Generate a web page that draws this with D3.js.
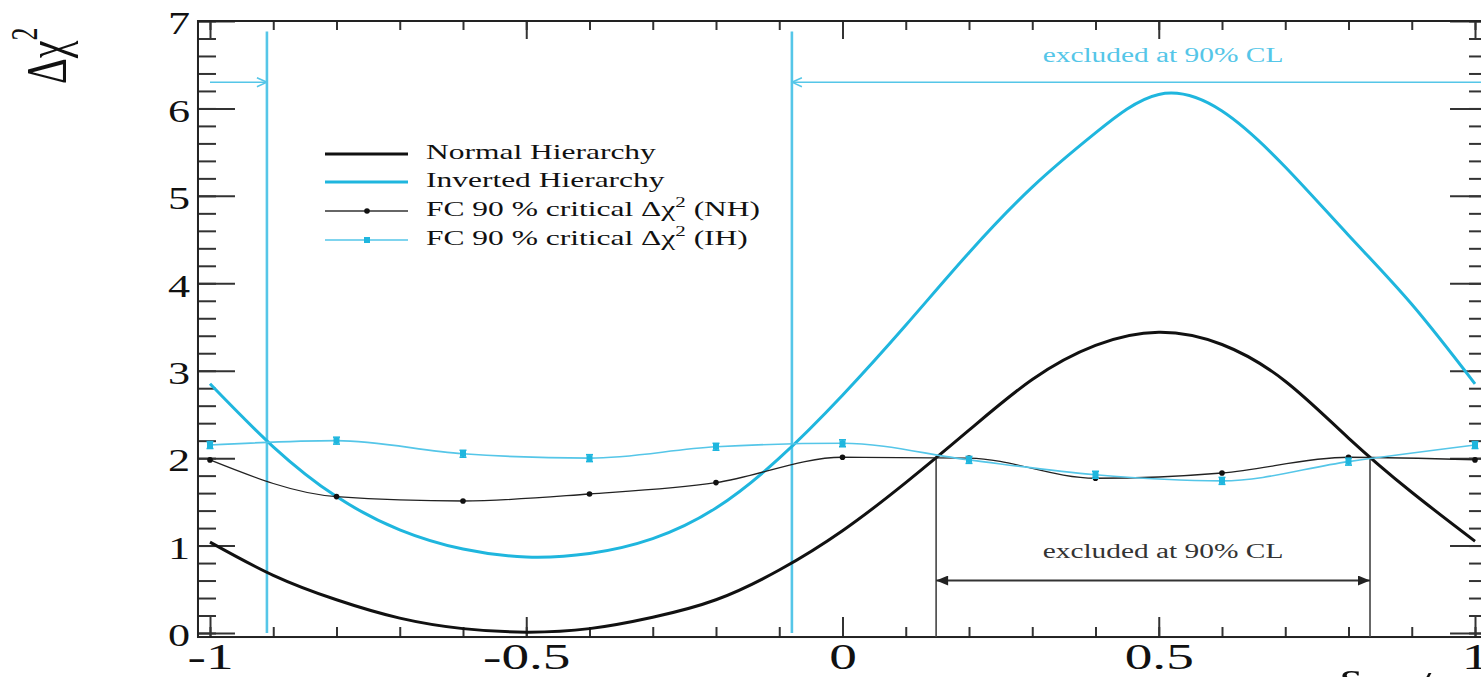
<!DOCTYPE html>
<html><head><meta charset="utf-8">
<script src="https://cdn.jsdelivr.net/npm/d3@7/dist/d3.min.js"></script>
<style>html,body{margin:0;padding:0;background:#fff;overflow:hidden;} svg{display:block;}</style>
</head><body>
<svg id="chart" width="1481" height="677"></svg>
<script>
// ---------------- data ----------------
const curveX   = [-1,-0.9,-0.8,-0.7,-0.6,-0.5,-0.4,-0.3,-0.2,-0.1,0,0.1,0.2,0.3,0.4,0.5,0.6,0.7,0.8,0.9,1];
const nhChi2   = [1.04,0.66,0.38,0.17,0.05,0.01,0.05,0.18,0.38,0.72,1.17,1.72,2.32,2.90,3.29,3.44,3.30,2.88,2.23,1.61,1.05];
const ihChi2   = [2.85,2.13,1.56,1.18,0.96,0.87,0.91,1.08,1.43,2.00,2.72,3.52,4.35,5.10,5.72,6.16,5.97,5.33,4.55,3.76,2.85];
const fcX      = [-1,-0.8,-0.6,-0.4,-0.2,0,0.2,0.4,0.6,0.8,1];
const fcNH     = [1.98,1.56,1.51,1.59,1.72,2.01,2.00,1.77,1.83,2.01,1.98];
const fcIH     = [2.15,2.20,2.05,2.00,2.13,2.17,1.98,1.81,1.74,1.96,2.15];
const fcIHErr  = [0.04,0.04,0.04,0.04,0.04,0.04,0.04,0.04,0.04,0.04,0.04];
const ihExcluded = [-0.91, -0.08];   // IH 90% CL boundaries
const nhExcluded = [0.148, 0.834];   // NH 90% CL boundaries
const xMajorTicks = [-1,-0.5,0,0.5,1];
const xTickLabels = ["-1","-0.5","0","0.5","1"];
const yMajorTicks = [0,1,2,3,4,5,6,7];
const yTickLabels = ["0","1","2","3","4","5","6","7"];
const legendLabels = ["Normal Hierarchy","Inverted Hierarchy","FC 90 % critical \u0394\u03C7|2| (NH)","FC 90 % critical \u0394\u03C7|2| (IH)"];
const annotationText = "excluded at 90% CL";

// ---------------- style ----------------
const CYAN = "#1fb6de", CYAN_LIGHT = "#55c6e8", BLACK = "#111";
const SERIF = "'Liberation Serif','DejaVu Serif',serif";

const svg = d3.select("#chart");
const x = d3.scaleLinear().domain([-1, 1]).range([210, 1475]);
const y = d3.scaleLinear().domain([0, 7]).range([633, 21]);
const fx0 = x(-1.019), fx1 = x(1.019), fy0 = y(-0.046), fy1 = y(7);

// horizontal stretch helper (reference text is horizontally stretched)
function stretch(sel, s, ax) {
  sel.attr("transform", `translate(${ax},0) scale(${s},1) translate(${-ax},0)`);
}

// defs: arrow markers
const defs = svg.append("defs");
defs.append("marker").attr("id","arrBlack").attr("markerUnits","userSpaceOnUse")
  .attr("viewBox","0 0 12 10").attr("refX",12).attr("refY",5)
  .attr("markerWidth",13).attr("markerHeight",10).attr("orient","auto-start-reverse")
  .append("path").attr("d","M0,0 L12,5 L0,10 Z").attr("fill","#222");
defs.append("marker").attr("id","arrCyan").attr("markerUnits","userSpaceOnUse")
  .attr("viewBox","0 0 12 12").attr("refX",11).attr("refY",6)
  .attr("markerWidth",12).attr("markerHeight",12).attr("orient","auto")
  .append("path").attr("d","M1,1.5 L11,6 L1,10.5").attr("fill","none").attr("stroke",CYAN_LIGHT).attr("stroke-width",1.5);

// ---------------- axes ----------------
function styleAxis(g) {
  g.select(".domain").remove();
  g.selectAll(".tick line").attr("stroke","#333").attr("stroke-width",2);
}
const minorX = d3.range(-10, 11).map(i => i / 10);
const minorY = d3.range(0, 36).map(i => i / 5);

// bottom
const gB = svg.append("g").attr("transform",`translate(0,${fy0})`)
  .call(d3.axisBottom(x).tickValues(xMajorTicks).tickSizeInner(-20).tickSizeOuter(0)
        .tickFormat((d,i) => xTickLabels[i]));
styleAxis(gB);
gB.selectAll("text").attr("font-family",SERIF).attr("font-size",35).attr("fill","#111")
  .attr("y",32).attr("dy",0).attr("transform","scale(1.58,1)");
svg.append("g").attr("transform",`translate(0,${fy0})`)
  .call(d3.axisBottom(x).tickValues(minorX).tickSizeInner(-10).tickSizeOuter(0).tickFormat(""))
  .call(styleAxis);
// top
svg.append("g").attr("transform",`translate(0,${fy1})`)
  .call(d3.axisTop(x).tickValues(xMajorTicks).tickSizeInner(-18).tickSizeOuter(0).tickFormat(""))
  .call(styleAxis);
svg.append("g").attr("transform",`translate(0,${fy1})`)
  .call(d3.axisTop(x).tickValues(minorX).tickSizeInner(-9).tickSizeOuter(0).tickFormat(""))
  .call(styleAxis);
// left
const gL = svg.append("g").attr("transform",`translate(${fx0},0)`)
  .call(d3.axisLeft(y).tickValues(yMajorTicks).tickSizeInner(-37).tickSizeOuter(0)
        .tickFormat((d,i) => yTickLabels[i]));
styleAxis(gL);
gL.selectAll("text").attr("font-family",SERIF).attr("font-size",32).attr("fill","#111")
  .attr("x",-8/1.38).attr("dy","0.4em").attr("transform","scale(1.38,1)");
svg.append("g").attr("transform",`translate(${fx0},0)`)
  .call(d3.axisLeft(y).tickValues(minorY).tickSizeInner(-18).tickSizeOuter(0).tickFormat(""))
  .call(styleAxis);
// right
svg.append("g").attr("transform",`translate(${fx1},0)`)
  .call(d3.axisRight(y).tickValues(yMajorTicks).tickSizeInner(-37).tickSizeOuter(0).tickFormat(""))
  .call(styleAxis);
svg.append("g").attr("transform",`translate(${fx1},0)`)
  .call(d3.axisRight(y).tickValues(minorY).tickSizeInner(-18).tickSizeOuter(0).tickFormat(""))
  .call(styleAxis);

// frame
svg.append("rect").attr("x",fx0).attr("y",fy1).attr("width",fx1-fx0).attr("height",fy0-fy1)
  .attr("fill","none").attr("stroke","#222").attr("stroke-width",2);

// ---------------- exclusion markers ----------------
svg.selectAll(".ihv").data(ihExcluded).enter().append("line")
  .attr("x1",d=>x(d)).attr("x2",d=>x(d)).attr("y1",y(6.88)).attr("y2",y(0))
  .attr("stroke",CYAN_LIGHT).attr("stroke-width",2.6);
svg.selectAll(".nhv").data(nhExcluded).enter().append("line")
  .attr("x1",d=>x(d)).attr("x2",d=>x(d)).attr("y1",y(2.0)).attr("y2",fy0)
  .attr("stroke","#444").attr("stroke-width",1.6);

// cyan arrows (IH excluded regions)
svg.append("line").attr("x1",x(-1)).attr("x2",x(ihExcluded[0])).attr("y1",y(6.3)).attr("y2",y(6.3))
  .attr("stroke",CYAN_LIGHT).attr("stroke-width",1.5).attr("marker-end","url(#arrCyan)");
svg.append("line").attr("x1",fx1).attr("x2",x(ihExcluded[1])).attr("y1",y(6.3)).attr("y2",y(6.3))
  .attr("stroke",CYAN_LIGHT).attr("stroke-width",1.5).attr("marker-end","url(#arrCyan)");
// black double arrow (NH excluded region)
svg.append("line").attr("x1",x(nhExcluded[0])).attr("x2",x(nhExcluded[1])).attr("y1",y(0.6)).attr("y2",y(0.6))
  .attr("stroke","#333").attr("stroke-width",2)
  .attr("marker-start","url(#arrBlack)").attr("marker-end","url(#arrBlack)");

// annotation texts
const tCy = svg.append("text").attr("x",1163).attr("y",62).attr("text-anchor","middle")
  .attr("font-family",SERIF).attr("font-size",20).attr("fill",CYAN_LIGHT).text(annotationText);
stretch(tCy, 1.47, 1163);
const tBk = svg.append("text").attr("x",1163).attr("y",558).attr("text-anchor","middle")
  .attr("font-family",SERIF).attr("font-size",20).attr("fill","#333").text(annotationText);
stretch(tBk, 1.47, 1163);

// ---------------- curves ----------------
const line = d3.line().x(d=>x(d[0])).y(d=>y(d[1])).curve(d3.curveNatural);
svg.append("path").datum(curveX.map((v,i)=>[v,ihChi2[i]])).attr("d",line)
  .attr("fill","none").attr("stroke",CYAN).attr("stroke-width",3);
svg.append("path").datum(curveX.map((v,i)=>[v,nhChi2[i]])).attr("d",line)
  .attr("fill","none").attr("stroke",BLACK).attr("stroke-width",3);

// FC critical values
const fcLine = d3.line().x(d=>x(d[0])).y(d=>y(d[1])).curve(d3.curveMonotoneX);
svg.append("path").datum(fcX.map((v,i)=>[v,fcNH[i]])).attr("d",fcLine)
  .attr("fill","none").attr("stroke","#222").attr("stroke-width",1.3);
svg.selectAll(".fcnh").data(fcX).enter().append("circle")
  .attr("cx",d=>x(d)).attr("cy",(d,i)=>y(fcNH[i])).attr("r",2.8).attr("fill","#111");
svg.append("path").datum(fcX.map((v,i)=>[v,fcIH[i]])).attr("d",fcLine)
  .attr("fill","none").attr("stroke",CYAN_LIGHT).attr("stroke-width",1.6);
const eb = svg.selectAll(".fcih").data(fcX).enter().append("g");
eb.append("line").attr("x1",d=>x(d)).attr("x2",d=>x(d))
  .attr("y1",(d,i)=>y(fcIH[i]-fcIHErr[i])).attr("y2",(d,i)=>y(fcIH[i]+fcIHErr[i]))
  .attr("stroke",CYAN).attr("stroke-width",2);
[-1,1].forEach(sgn => {
  eb.append("line").attr("x1",d=>x(d)-3.5).attr("x2",d=>x(d)+3.5)
    .attr("y1",(d,i)=>y(fcIH[i]+sgn*fcIHErr[i])).attr("y2",(d,i)=>y(fcIH[i]+sgn*fcIHErr[i]))
    .attr("stroke",CYAN).attr("stroke-width",1.5);
});
eb.append("rect").attr("x",d=>x(d)-3).attr("y",(d,i)=>y(fcIH[i])-3).attr("width",6).attr("height",6)
  .attr("fill",CYAN);

// ---------------- legend ----------------
const legRows = [154,182,211,240];
const legStyles = [
  {stroke:BLACK, w:3, mark:null},
  {stroke:CYAN, w:3, mark:null},
  {stroke:"#333", w:1.6, mark:"dot"},
  {stroke:CYAN_LIGHT, w:1.6, mark:"sq"}
];
legendLabels.forEach((lab,i) => {
  const yy = legRows[i], st = legStyles[i];
  svg.append("line").attr("x1",325).attr("x2",408).attr("y1",yy).attr("y2",yy)
    .attr("stroke",st.stroke).attr("stroke-width",st.w);
  if (st.mark === "dot") svg.append("circle").attr("cx",367).attr("cy",yy).attr("r",2.8).attr("fill","#111");
  if (st.mark === "sq") svg.append("rect").attr("x",364).attr("y",yy-3).attr("width",6).attr("height",6).attr("fill",CYAN);
  const t = svg.append("text").attr("x",426).attr("y",yy+5).attr("font-family",SERIF)
    .attr("font-size",21).attr("fill","#111");
  const parts = lab.split("|");
  parts.forEach((p,k) => {
    if (k % 2 === 1) t.append("tspan").attr("font-size",14).attr("dy",-9).text(p);
    else t.append("tspan").attr("dy", k>0 ? 9 : 0).text(p);
  });
  stretch(t, 1.5, 426);
});

// ---------------- axis titles ----------------
const yt = svg.append("g").attr("transform","translate(66,84) scale(1.45,1) rotate(-90)")
  .append("text").attr("font-family",SERIF).attr("font-size",40).attr("fill","#111");
yt.append("tspan").text("\u0394\u03C7");
yt.append("tspan").attr("font-size",26).attr("dy",-20).text("2");

// x title: only its top edge is visible in the reference (cropped at the bottom)
const xt = svg.append("text").attr("x",1335).attr("y",699).attr("font-family",SERIF)
  .attr("font-size",40).attr("fill","#111");
xt.append("tspan").text("\u03B4");
xt.append("tspan").attr("font-size",28).attr("dy",8).text("CP");
xt.append("tspan").attr("dy",-8).text("/\u03C0");
stretch(xt, 1.5, 1335);
</script>
</body></html>
